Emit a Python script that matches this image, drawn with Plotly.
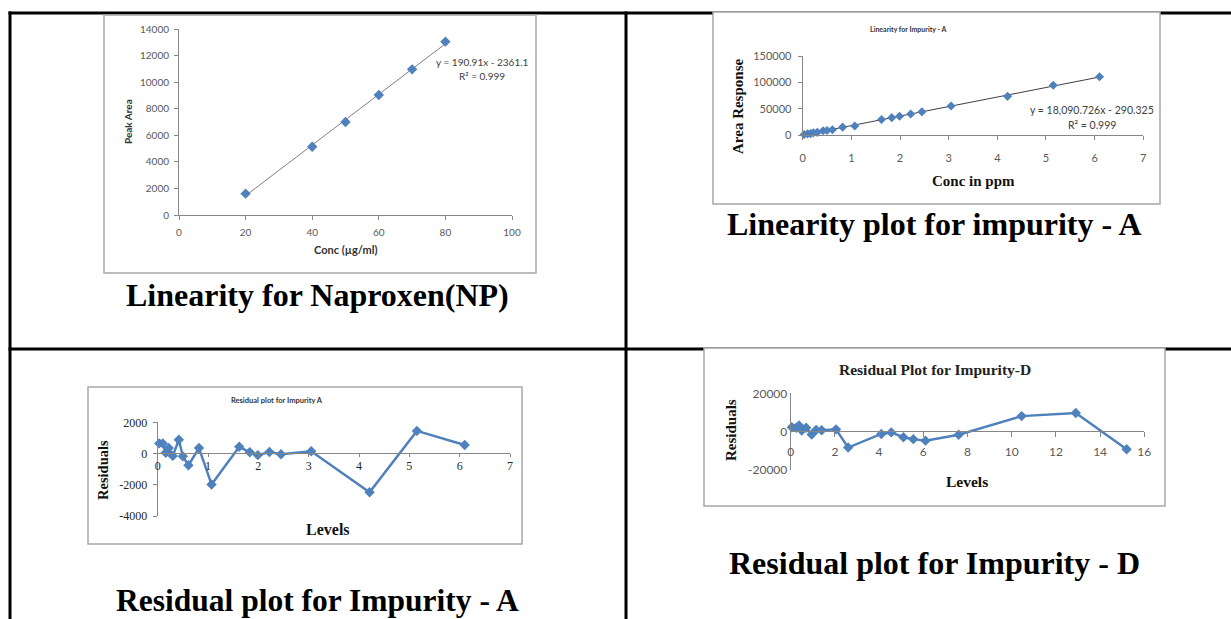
import plotly.graph_objects as go

W, H = 1231, 619

def px(x):
    return x / W

def py(y):
    return 1 - y / H

# ---------------- data ----------------
np_conc = [20, 40, 50, 60, 70, 80]
np_area = [1610, 5150, 7010, 9050, 10980, 13070]
np_slope, np_intercept = 190.91, -2361.1

impA_conc = [0.03, 0.1, 0.16, 0.22, 0.3, 0.42, 0.5, 0.61, 0.82, 1.07,
             1.62, 1.83, 1.99, 2.22, 2.45, 3.05, 4.21, 5.15, 6.1]
impA_area = [900, 2170, 2650, 4040, 4990, 8190, 8580, 10000, 14900, 17090,
             29450, 32900, 35610, 39970, 43980, 55040, 73390, 94330, 110610]
impA_slope, impA_intercept = 18090.726, -290.325

resA_level = [0.03, 0.1, 0.16, 0.22, 0.3, 0.42, 0.5, 0.61, 0.82, 1.07,
              1.62, 1.83, 1.99, 2.22, 2.45, 3.05, 4.21, 5.15, 6.1]
resA_resid = [650, 650, 50, 350, -150, 880, -180, -750, 350, -1980,
              430, 80, -100, 100, -50, 150, -2480, 1450, 550]

resD_level = [0.05, 0.25, 0.38, 0.5, 0.7, 0.95, 1.15, 1.4, 2.05, 2.6,
              4.1, 4.55, 5.1, 5.55, 6.1, 7.6, 10.45, 12.9, 15.2]
resD_resid = [2300, 2000, 3200, 600, 2000, -1500, 900, 700, 1200, -8300,
              -1200, -400, -2900, -3900, -4700, -1600, 8100, 9700, -9200]

resA_yticks = [-4000, -2000, 0, 2000]
resA_yticklabels = ["-4000", "-2000", "0", "2000"]
resD_yticks = [-20000, 0, 20000]
resD_yticklabels = ["-20000", "0", "20000"]

BLUE = "#4F81BD"
AXC = "#868686"
TICKC = "#595959"
SANS = "Lato, 'Open Sans', sans-serif"
SERIF = "'Liberation Serif', 'Times New Roman', serif"

fig = go.Figure()

# chart 1: Naproxen linearity
fig.add_trace(go.Scatter(x=[min(np_conc), max(np_conc)],
                         y=[np_slope * min(np_conc) + np_intercept, np_slope * max(np_conc) + np_intercept],
                         mode="lines", line=dict(color="#7F7F7F", width=1),
                         xaxis="x", yaxis="y", hoverinfo="skip"))
fig.add_trace(go.Scatter(x=np_conc, y=np_area, mode="markers",
                         marker=dict(symbol="diamond", size=8, color=BLUE),
                         xaxis="x", yaxis="y", cliponaxis=False))

# chart 2: impurity A linearity
fig.add_trace(go.Scatter(x=[min(impA_conc), max(impA_conc)],
                         y=[impA_slope * min(impA_conc) + impA_intercept, impA_slope * max(impA_conc) + impA_intercept],
                         mode="lines", line=dict(color="#404040", width=1),
                         xaxis="x2", yaxis="y2", hoverinfo="skip"))
fig.add_trace(go.Scatter(x=impA_conc, y=impA_area, mode="markers",
                         marker=dict(symbol="diamond", size=7, color=BLUE),
                         xaxis="x2", yaxis="y2", cliponaxis=False))

# chart 3: residual A
fig.add_trace(go.Scatter(x=resA_level, y=resA_resid, mode="lines+markers",
                         line=dict(color=BLUE, width=2.5),
                         marker=dict(symbol="diamond", size=8, color=BLUE),
                         xaxis="x3", yaxis="y3", cliponaxis=False))

# chart 4: residual D
fig.add_trace(go.Scatter(x=resD_level, y=resD_resid, mode="lines+markers",
                         line=dict(color=BLUE, width=2.5),
                         marker=dict(symbol="diamond", size=8, color=BLUE),
                         xaxis="x4", yaxis="y4", cliponaxis=False))


def xax(dom, rng, dtick, font, standoff, anchor, position=None, ticklen=4):
    d = dict(domain=[px(dom[0]), px(dom[1])], range=rng, dtick=dtick, tick0=0,
             tickformat="d", showgrid=False, zeroline=False, showline=True, linecolor=AXC, linewidth=1,
             ticks="outside" if ticklen > 0 else "", ticklen=ticklen, tickcolor=AXC, tickwidth=1,
             tickfont=font, ticklabelstandoff=standoff, fixedrange=True, automargin=False)
    if position is None:
        d["anchor"] = anchor
    else:
        d["anchor"] = "free"
        d["position"] = position
    return d


def yax(dom, rng, dtick, font, standoff, anchor, ticklen=4, tickvals=None, ticktext=None):
    d = dict(domain=[py(dom[1]), py(dom[0])], range=rng, dtick=dtick, tick0=0,
             tickformat="d", showgrid=False, zeroline=False, showline=True, linecolor=AXC, linewidth=1,
             ticks="outside" if ticklen > 0 else "", ticklen=ticklen, tickcolor=AXC, tickwidth=1,
             tickfont=font, ticklabelstandoff=standoff, anchor=anchor, fixedrange=True, automargin=False)
    if tickvals is not None:
        d.update(tickmode="array", tickvals=tickvals, ticktext=ticktext)
    return d


f1 = dict(family=SANS, size=10, color=TICKC)
f2 = dict(family=SANS, size=11, color=TICKC)
f3 = dict(family=SERIF, size=12, color="#262626")
f4 = dict(family=SANS, size=12, color=TICKC)

fig.update_layout(
    xaxis=xax((179, 512), [0, 100], 20, f1, 4, "y"),
    yaxis=yax((29.3, 215), [0, 14000], 2000, f1, 3, "x"),
    xaxis2=xax((802.7, 1143.3), [0, 7], 1, f2, 9, "y2"),
    yaxis2=yax((56, 135), [0, 150000], 50000, f2, 4, "x2"),
    xaxis3=xax((157.7, 510), [0, 7], 1, f3, -2, None, position=py(453.3), ticklen=3),
    yaxis3=yax((422.3, 516), [-4000, 2000], 2000, f3, 3, "x3",
               tickvals=resA_yticks, ticktext=resA_yticklabels),
    xaxis4=xax((790.7, 1144.3), [0, 16], 2, f4, 4, None, position=py(431.2), ticklen=5),
    yaxis4=yax((393.3, 470), [-20000, 20000], 20000, f4, 0, "x4", ticklen=0,
               tickvals=resD_yticks, ticktext=resD_yticklabels),
)

# ---------------- table & chart frames ----------------
shapes = []
LINE = dict(color="black", width=3)
shapes.append(dict(type="line", xref="paper", yref="paper", x0=px(8.5), x1=1, y0=py(13), y1=py(13), line=LINE, layer="below"))
shapes.append(dict(type="line", xref="paper", yref="paper", x0=px(10), x1=px(10), y0=py(11.5), y1=0, line=LINE, layer="below"))
shapes.append(dict(type="line", xref="paper", yref="paper", x0=px(626), x1=px(626), y0=py(11.5), y1=0, line=LINE, layer="below"))
shapes.append(dict(type="line", xref="paper", yref="paper", x0=px(8.5), x1=1, y0=py(349), y1=py(349), line=LINE, layer="below"))

FRAME = dict(color="#A6A6A6", width=1.5)
for (x0, y0, x1, y1) in [(104, 15, 536, 273), (713, 12, 1160, 204), (88, 387, 522, 544), (704, 348, 1165, 506)]:
    shapes.append(dict(type="rect", xref="paper", yref="paper", x0=px(x0), x1=px(x1), y0=py(y1), y1=py(y0),
                       line=FRAME, fillcolor="white", layer="below"))

# ---------------- texts ----------------
ann = []

def text(t, x, y, font, angle=0, xanchor="center", yanchor="middle"):
    ann.append(dict(text=t, x=px(x), y=py(y), xref="paper", yref="paper", showarrow=False,
                    font=font, textangle=angle, xanchor=xanchor, yanchor=yanchor))

# chart 1
text("<b>Conc (µg/ml)</b>", 346, 250, dict(family=SANS, size=11, color="#333333"))
text("<b>Peak Area</b>", 128, 122, dict(family=SANS, size=10, color="#333333"), angle=-90)
text("y = 190.91x - 2361.1", 482, 62, dict(family=SANS, size=10, color="#404040"))
text("R² = 0.999", 482, 75.5, dict(family=SANS, size=10, color="#404040"))

# chart 2
text("<b>Linearity for Impurity - A</b>", 908, 29.5, dict(family=SANS, size=7, color="#333333"))
text("<b>Area Response</b>", 738, 107, dict(family=SERIF, size=15, color="#111111"), angle=-90)
text("<b>Conc in ppm</b>", 973, 181, dict(family=SERIF, size=15, color="#111111"))
text("y = 18,090.726x - 290.325", 1092, 110, dict(family=SANS, size=10.5, color="#404040"))
text("R² = 0.999", 1092, 125, dict(family=SANS, size=10.5, color="#404040"))

# chart 3
text("<b>Residual plot for Impurity A</b>", 277, 400.5, dict(family=SANS, size=7.5, color="#333333"))
text("<b>Residuals</b>", 103, 470, dict(family=SERIF, size=14.5, color="#111111"), angle=-90)
text("<b>Levels</b>", 328, 529, dict(family=SERIF, size=16, color="#111111"))

# chart 4
text("<b>Residual Plot for Impurity-D</b>", 935, 369, dict(family=SERIF, size=15.5, color="#222222"))
text("<b>Residuals</b>", 731, 430, dict(family=SERIF, size=15, color="#111111"), angle=-90)
text("<b>Levels</b>", 967, 481.5, dict(family=SERIF, size=15.5, color="#111111"))

# captions
CAP = dict(family=SERIF, size=32, color="black")
text("<b>Linearity for Naproxen(NP)</b>", 317, 295, CAP)
text("<b>Linearity plot for impurity - A</b>", 934, 224, CAP)
text("<b>Residual plot for Impurity - D</b>", 934.5, 563, CAP)
text("<b>Residual plot for Impurity - A</b>", 317.5, 600, dict(family=SERIF, size=31.5, color="black"))

fig.update_layout(
    width=W, height=H, autosize=False,
    margin=dict(l=0, r=0, t=0, b=0, pad=0, autoexpand=False),
    paper_bgcolor="white", plot_bgcolor="rgba(0,0,0,0)",
    showlegend=False, shapes=shapes, annotations=ann,
)

fig.write_html("out.html", config={"displayModeBar": False},
               post_script="document.body.style.margin='0';document.body.style.overflow='hidden';")
